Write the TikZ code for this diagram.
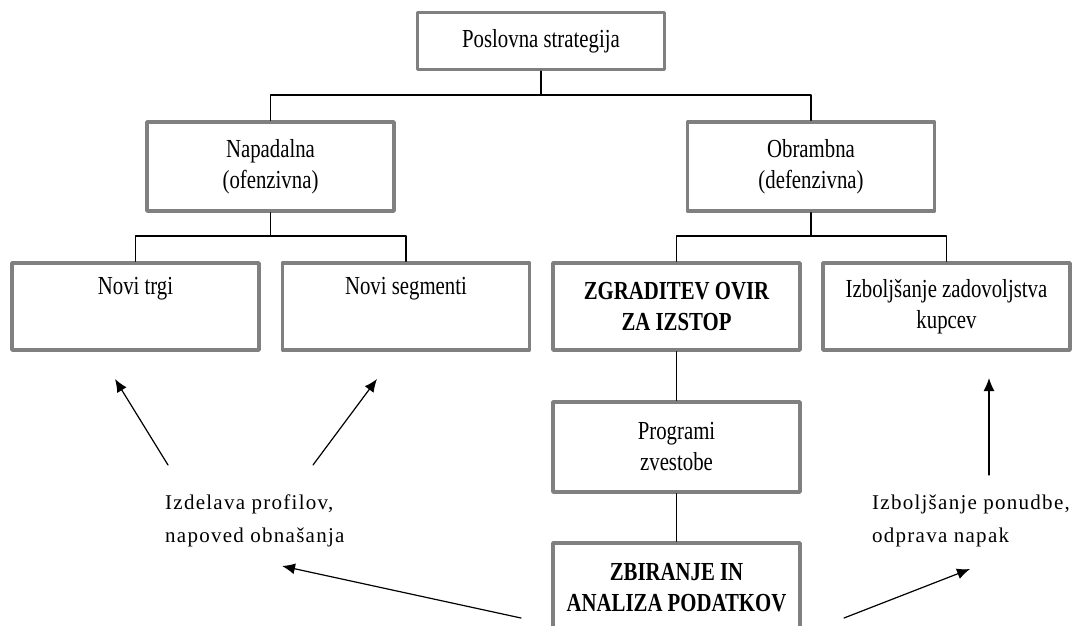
\documentclass[tikz,border=0pt]{standalone}
\usepackage{fontspec}
\setmainfont{Liberation Serif}[FakeStretch=0.8]
\newfontfamily\labfont{Liberation Serif}[LetterSpace=6]
\usetikzlibrary{arrows.meta}

\begin{document}
\begin{tikzpicture}[x=1pt,y=-1pt,line join=round,line cap=round,>={Latex[length=13pt,width=11pt]},
	box/.style={draw=black!50,line width=3.5pt,fill=white,minimum width=247pt,align=center,font=\fontsize{26}{31}\selectfont},
	lab/.style={anchor=north west,align=left,inner sep=0pt,font=\labfont\fontsize{21}{33}\selectfont}]
	\clip (0,0) rectangle (1073,625);
	% boxes
	\node[box,minimum height=57pt] (pos) at (541,41) {Poslovna strategija};
	\node[box,minimum height=89pt] (nap) at (270.5,166.5) {Napadalna\\(ofenzivna)};
	\node[box,minimum height=89pt] (obr) at (811,166.5) {Obrambna\\(defenzivna)};
	\node[box,minimum height=87pt] (trg) at (135.5,306.5) {Novi trgi\\\strut};
	\node[box,minimum height=87pt] (seg) at (406,306.5) {Novi segmenti\\\strut};
	\node[box,minimum height=87pt] (ovi) at (676.5,306.5) {\bfseries ZGRADITEV OVIR\\\bfseries ZA IZSTOP};
	\node[box,minimum height=87pt] (zad) at (946.5,306.5) {Izboljšanje zadovoljstva\\kupcev};
	\node[box,minimum height=90pt] (pro) at (676.5,447) {Programi\\zvestobe};
	\node[box,minimum height=90pt] (zbi) at (676.5,588) {\bfseries ZBIRANJE IN\\\bfseries ANALIZA PODATKOV};
	% labels
	\node[lab] (prf) at (165,495) {Izdelava profilov,\\napoved obnašanja};
	\node[lab] (pon) at (872,495) {Izboljšanje ponudbe,\\odprava napak};
	% tree
	\coordinate (j1) at (541,95);
	\coordinate (j2) at (270.5,236);
	\coordinate (j3) at (811,236);
	\draw[line width=1.5pt] (pos.south) -- (j1);
	\draw[line width=1.5pt] (nap.north) |- (j1) -| (obr.north);
	\draw[line width=1.5pt] (nap.south) -- (j2);
	\draw[line width=1.5pt] (trg.north) |- (j2) -| (seg.north);
	\draw[line width=1.5pt] (obr.south) -- (j3);
	\draw[line width=1.5pt] (ovi.north) |- (j3) -| (zad.north);
	\draw[line width=1.5pt] (ovi.south) -- (pro.north);
	\draw[line width=1.5pt] (pro.south) -- (zbi.north);
	% arrows
	\coordinate (a1) at (168,465);
	\coordinate (t1) at (115,379);
	\coordinate (a2) at (313,465);
	\coordinate (t2) at (377,379);
	\coordinate (a3) at (989,475);
	\coordinate (t3) at (989,378);
	\coordinate (a4) at (521,618);
	\coordinate (t4) at (282,566);
	\coordinate (a5) at (844,618);
	\coordinate (t5) at (970,569);
	\draw[->,line width=1.2pt] (a1) -- (t1);
	\draw[->,line width=1.2pt] (a2) -- (t2);
	\draw[->,line width=1.2pt] (a3) -- (t3);
	\draw[->,line width=1.2pt] (a4) -- (t4);
	\draw[->,line width=1.2pt] (a5) -- (t5);
\end{tikzpicture}
\end{document}
